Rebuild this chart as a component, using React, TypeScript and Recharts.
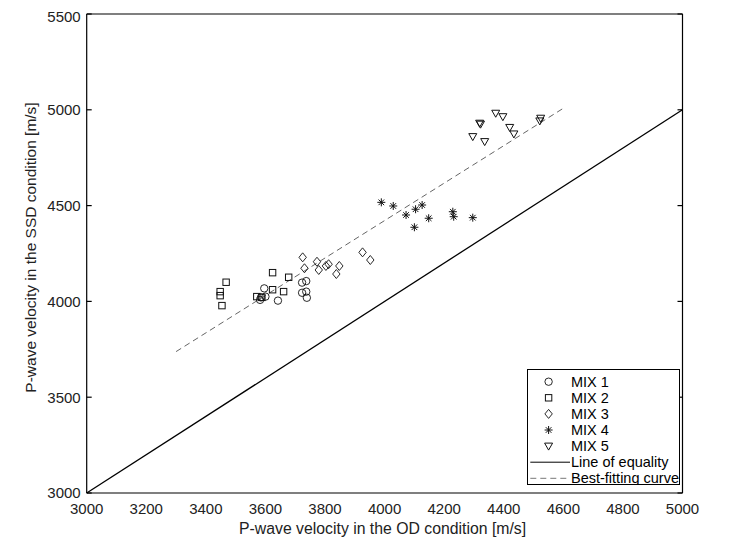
import React from 'react';
import { ScatterChart, Scatter, XAxis, YAxis, ReferenceLine, Legend } from 'recharts';

const FONT = '"Liberation Sans", Arial, Helvetica, sans-serif';

const xTicks = [3000, 3200, 3400, 3600, 3800, 4000, 4200, 4400, 4600, 4800, 5000];
const yTicks = [3000, 3500, 4000, 4500, 5000, 5500];

const mix1X = [3596, 3585, 3582, 3600, 3642, 3723, 3737, 3723, 3737, 3739];
const mix1Y = [4068, 4021, 4008, 4025, 4004, 4098, 4106, 4045, 4051, 4019];

const mix2X = [3468, 3448, 3448, 3454, 3624, 3678, 3624, 3661, 3571, 3588];
const mix2Y = [4100, 4051, 4030, 3978, 4150, 4126, 4061, 4051, 4025, 4021];

const mix3X = [3725, 3731, 3773, 3779, 3803, 3812, 3848, 3838, 3926, 3952];
const mix3Y = [4230, 4173, 4207, 4164, 4185, 4194, 4185, 4143, 4256, 4216];

const mix4X = [3989, 4029, 4072, 4104, 4126, 4100, 4148, 4229, 4232, 4296];
const mix4Y = [4517, 4498, 4451, 4481, 4503, 4387, 4434, 4468, 4442, 4437];

const mix5X = [4373, 4397, 4319, 4322, 4296, 4336, 4420, 4434, 4524, 4521];
const mix5Y = [4982, 4964, 4930, 4925, 4860, 4834, 4908, 4874, 4956, 4942];

const equalityX = [3000, 5000];
const equalityY = [3000, 5000];

const bestFitX = [3300, 4600];
const bestFitY = [3738, 5008];

const legendLabels = ['MIX 1', 'MIX 2', 'MIX 3', 'MIX 4', 'MIX 5', 'Line of equality', 'Best-fitting curve'];

const toPoints = (xs: number[], ys: number[]) => xs.map((x, i) => ({ x, y: ys[i] }));

const MK = '#111';

const circleShape = (cx: number, cy: number) => (
  <circle cx={cx} cy={cy} r={3.7} fill="none" stroke={MK} strokeWidth={0.9} />
);
const squareShape = (cx: number, cy: number) => (
  <rect x={cx - 3.2} y={cy - 3.2} width={6.4} height={6.4} fill="none" stroke={MK} strokeWidth={1} />
);
const diamondShape = (cx: number, cy: number) => (
  <polygon
    points={`${cx},${cy - 4.5} ${cx + 3.7},${cy} ${cx},${cy + 4.5} ${cx - 3.7},${cy}`}
    fill="none"
    stroke={MK}
    strokeWidth={0.9}
  />
);
const starShape = (cx: number, cy: number) => (
  <g stroke={MK} strokeWidth={1}>
    <line x1={cx - 4} y1={cy} x2={cx + 4} y2={cy} />
    <line x1={cx} y1={cy - 4} x2={cx} y2={cy + 4} />
    <line x1={cx - 2.8} y1={cy - 2.8} x2={cx + 2.8} y2={cy + 2.8} />
    <line x1={cx - 2.8} y1={cy + 2.8} x2={cx + 2.8} y2={cy - 2.8} />
  </g>
);
const triangleShape = (cx: number, cy: number) => (
  <polygon
    points={`${cx - 4},${cy - 3} ${cx + 4},${cy - 3} ${cx},${cy + 4}`}
    fill="none"
    stroke={MK}
    strokeWidth={1}
  />
);

const shapes = [circleShape, squareShape, diamondShape, starShape, triangleShape];

const mkShape = (fn: (cx: number, cy: number) => React.ReactElement) => (props: any) => {
  const { cx, cy } = props;
  if (cx == null || cy == null) return <g />;
  return fn(cx, cy);
};

const emptyTick = () => <g />;

const renderLegend = () => {
  const w = 153;
  const h = 116;
  const rowY = [12.7, 28.8, 44.9, 61, 77.1, 93.2, 109.3];
  return (
    <svg width={w} height={h} style={{ display: 'block' }}>
      <rect x={0.5} y={0.5} width={w - 1} height={h - 1} fill="#fff" stroke="#000" strokeWidth={1} />
      {legendLabels.map((lab, i) => (
        <g key={lab}>
          {i < 5 && shapes[i](21.6, rowY[i])}
          {i === 5 && <line x1={3.3} y1={rowY[i]} x2={43} y2={rowY[i]} stroke="#000" strokeWidth={1} />}
          {i === 6 && (
            <line x1={3.3} y1={rowY[i]} x2={43} y2={rowY[i]} stroke="#777" strokeWidth={1} strokeDasharray="6 4" />
          )}
          <text
            x={44}
            y={rowY[i]}
            dominantBaseline="central"
            fontFamily={FONT}
            fontSize={14.5}
            fill="#000"
          >
            {lab}
          </text>
        </g>
      ))}
    </svg>
  );
};

const xLabel = (props: any) => {
  const vb = props.viewBox || {};
  return (
    <text
      x={vb.x + vb.width / 2 - 2}
      y={vb.y + 35}
      textAnchor="middle"
      dominantBaseline="central"
      fontFamily={FONT}
      fontSize={15.8}
      fill="#222"
    >
      P-wave velocity in the OD condition [m/s]
    </text>
  );
};

const yLabel = (props: any) => {
  const vb = props.viewBox || {};
  const cx = vb.x + 3.5;
  const cy = vb.y + vb.height / 2 - 6;
  return (
    <text
      x={cx}
      y={cy}
      transform={`rotate(-90, ${cx}, ${cy})`}
      textAnchor="middle"
      dominantBaseline="central"
      fontFamily={FONT}
      fontSize={15.5}
      fill="#222"
    >
      P-wave velocity in the SSD condition [m/s]
    </text>
  );
};

const tickStyle = { fontSize: 15, fill: '#222', fontFamily: FONT };

export default function App() {
  const series = [
    toPoints(mix1X, mix1Y),
    toPoints(mix2X, mix2Y),
    toPoints(mix3X, mix3Y),
    toPoints(mix4X, mix4Y),
    toPoints(mix5X, mix5Y),
  ];
  return (
    <div style={{ width: 723, height: 552, background: '#fff' }}>
      <ScatterChart width={723} height={552} margin={{ top: 6, right: 48.5, bottom: 22, left: 18.7 }}>
        <XAxis
          xAxisId="b"
          dataKey="x"
          type="number"
          domain={[3000, 5000]}
          ticks={xTicks}
          allowDataOverflow
          orientation="bottom"
          height={45}
          tickLine={false}
          tickSize={6}
          tickMargin={4}
          tick={tickStyle}
          axisLine={{ stroke: '#000', strokeWidth: 1.2 }}
          label={xLabel}
        />
        <XAxis
          xAxisId="bm"
          type="number"
          domain={[3000, 5000]}
          ticks={xTicks}
          allowDataOverflow
          orientation="bottom"
          mirror
          tickSize={5}
          tickLine={{ stroke: '#000', strokeWidth: 1.2 }}
          axisLine={false}
          tick={emptyTick}
        />
        <XAxis
          xAxisId="t"
          type="number"
          domain={[3000, 5000]}
          ticks={xTicks}
          allowDataOverflow
          orientation="top"
          mirror
          tickSize={5}
          tickLine={{ stroke: '#000', strokeWidth: 1.2 }}
          axisLine={{ stroke: '#000', strokeWidth: 1.2 }}
          tick={emptyTick}
        />
        <YAxis
          yAxisId="l"
          dataKey="y"
          type="number"
          domain={[3000, 5500]}
          ticks={yTicks}
          allowDataOverflow
          orientation="left"
          width={60}
          tickLine={false}
          tickSize={5}
          tickMargin={1}
          tick={tickStyle}
          axisLine={{ stroke: '#000', strokeWidth: 1.2 }}
          label={yLabel}
        />
        <YAxis
          yAxisId="lm"
          type="number"
          domain={[3000, 5500]}
          ticks={yTicks}
          allowDataOverflow
          orientation="left"
          mirror
          tickSize={5}
          tickLine={{ stroke: '#000', strokeWidth: 1.2 }}
          axisLine={false}
          tick={emptyTick}
        />
        <YAxis
          yAxisId="r"
          type="number"
          domain={[3000, 5500]}
          ticks={yTicks}
          allowDataOverflow
          orientation="right"
          mirror
          tickSize={5}
          tickLine={{ stroke: '#000', strokeWidth: 1.2 }}
          axisLine={{ stroke: '#000', strokeWidth: 1.2 }}
          tick={emptyTick}
        />
        <ReferenceLine
          xAxisId="b"
          yAxisId="l"
          segment={[
            { x: equalityX[0], y: equalityY[0] },
            { x: equalityX[1], y: equalityY[1] },
          ]}
          stroke="#000"
          strokeWidth={1.3}
        />
        <ReferenceLine
          xAxisId="b"
          yAxisId="l"
          segment={[
            { x: bestFitX[0], y: bestFitY[0] },
            { x: bestFitX[1], y: bestFitY[1] },
          ]}
          stroke="#666"
          strokeWidth={1}
          strokeDasharray="6 4"
        />
        {series.map((data, i) => (
          <Scatter
            key={legendLabels[i]}
            name={legendLabels[i]}
            xAxisId="b"
            yAxisId="l"
            data={data}
            shape={mkShape(shapes[i])}
            isAnimationActive={false}
          />
        ))}
        <Legend
          layout="vertical"
          align="center"
          verticalAlign="middle"
          content={renderLegend}
          wrapperStyle={{ position: 'absolute', left: 518.7, top: 361, width: 153, height: 116 }}
        />
      </ScatterChart>
    </div>
  );
}
